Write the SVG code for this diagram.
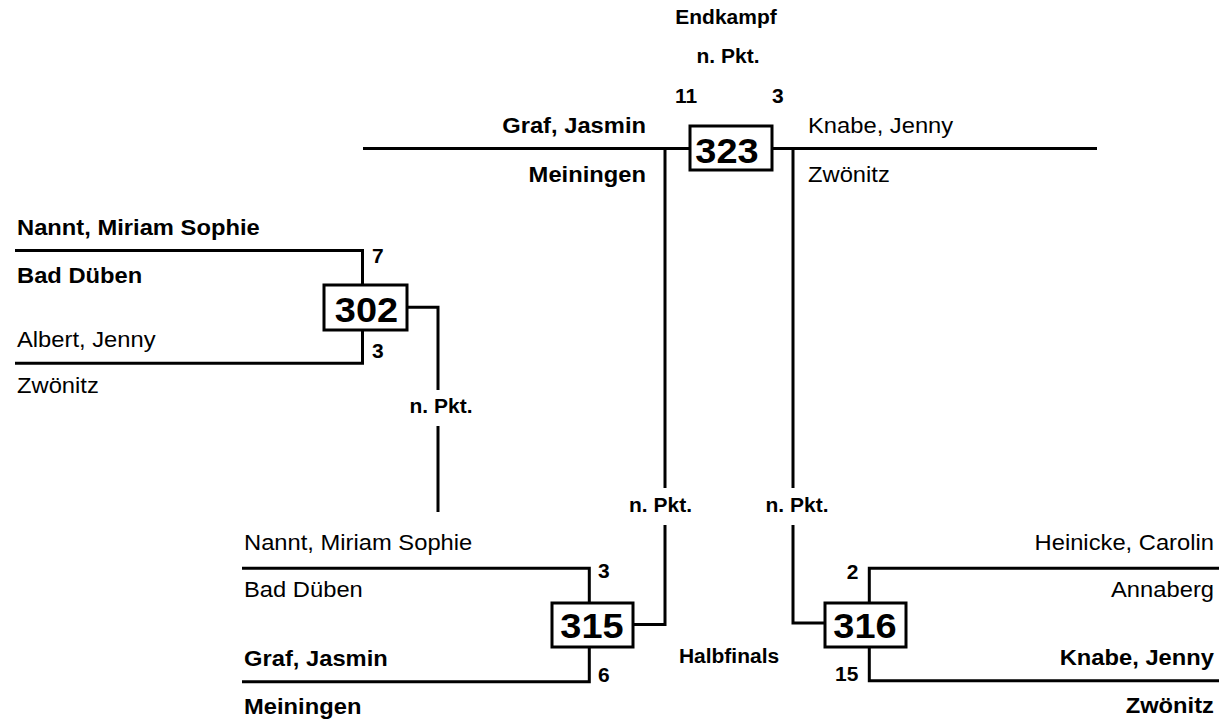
<svg xmlns="http://www.w3.org/2000/svg" width="1219" height="723" viewBox="0 0 1219 723">
<style>
  .ln { fill: none; stroke: #000; stroke-width: 3; }
  .box { fill: #fff; stroke: #000; stroke-width: 3; }
  text { font-family: "Liberation Sans", Arial, sans-serif; fill: #000; }
  .nb { font-size: 22.4px; font-weight: bold; }
  .nr { font-size: 22.4px; }
  .lb { font-size: 19.8px; font-weight: bold; }
  .num { font-size: 35.8px; font-weight: bold; text-anchor: middle; }
  .mid { text-anchor: middle; }
  .end { text-anchor: end; }
</style>
<rect width="1219" height="723" fill="#fff"/>
<g id="connectors">
  <path class="ln" d="M363,148.5 H1097"/>
  <path class="ln" d="M15,250.5 H362.5 V285 M362.5,330 V363.3 H15"/>
  <path class="ln" d="M407.5,307.3 H438 V390 M438,426 V512"/>
  <path class="ln" d="M242,568.3 H589.3 V603 M589.3,647 V681.7 H242"/>
  <path class="ln" d="M1219,568.3 H869.3 V603 M869.3,647 V680.7 H1219"/>
  <path class="ln" d="M632,624.5 H665 V525 M665,488 V148.5"/>
  <path class="ln" d="M825,623 H793 V525 M793,488 V148.5"/>
</g>
<g id="m323">
  <text class="lb mid" transform="matrix(1.06 0 0 1 726 24)">Endkampf</text>
  <text class="lb mid" transform="matrix(1.06 0 0 1 728 63)">n. Pkt.</text>
  <text class="lb" transform="matrix(1.06 0 0 1 675 103)">11</text>
  <text class="lb" transform="matrix(1.06 0 0 1 772 103)">3</text>
  <text class="nb end" transform="matrix(1.06 0 0 1 646 133)">Graf, Jasmin</text>
  <text class="nb end" transform="matrix(1.06 0 0 1 646 181.5)">Meiningen</text>
  <text class="nr" transform="matrix(1.06 0 0 1 808 133)">Knabe, Jenny</text>
  <text class="nr" transform="matrix(1.06 0 0 1 808 181.5)">Zwönitz</text>
  <rect class="box" x="690" y="126" width="82" height="44"/>
  <text class="num" transform="matrix(1.06 0 0 1 727 163)">323</text>
</g>
<g id="m302">
  <text class="nb" transform="matrix(1.06 0 0 1 17 235)">Nannt, Miriam Sophie</text>
  <text class="nb" transform="matrix(1.06 0 0 1 17 283)">Bad Düben</text>
  <text class="nr" transform="matrix(1.06 0 0 1 17 346.5)">Albert, Jenny</text>
  <text class="nr" transform="matrix(1.06 0 0 1 17 393)">Zwönitz</text>
  <text class="lb" transform="matrix(1.06 0 0 1 372 262.7)">7</text>
  <text class="lb" transform="matrix(1.06 0 0 1 372 357.7)">3</text>
  <rect class="box" x="324" y="285" width="83" height="45"/>
  <text class="num" transform="matrix(1.06 0 0 1 366.5 321.7)">302</text>
  <text class="lb mid" transform="matrix(1.06 0 0 1 441 413)">n. Pkt.</text>
</g>
<g id="m315">
  <text class="nr" transform="matrix(1.06 0 0 1 244 550)">Nannt, Miriam Sophie</text>
  <text class="nr" transform="matrix(1.06 0 0 1 244 596.7)">Bad Düben</text>
  <text class="nb" transform="matrix(1.06 0 0 1 244 666)">Graf, Jasmin</text>
  <text class="nb" transform="matrix(1.06 0 0 1 244 714)">Meiningen</text>
  <text class="lb" transform="matrix(1.06 0 0 1 598 578)">3</text>
  <text class="lb" transform="matrix(1.06 0 0 1 598 681.7)">6</text>
  <rect class="box" x="552" y="603" width="81" height="44"/>
  <text class="num" transform="matrix(1.06 0 0 1 592 638)">315</text>
  <text class="lb mid" transform="matrix(1.06 0 0 1 660.5 512)">n. Pkt.</text>
</g>
<g id="m316">
  <text class="nr end" transform="matrix(1.06 0 0 1 1214 550)">Heinicke, Carolin</text>
  <text class="nr end" transform="matrix(1.06 0 0 1 1214 596.7)">Annaberg</text>
  <text class="nb end" transform="matrix(1.06 0 0 1 1214 665)">Knabe, Jenny</text>
  <text class="nb end" transform="matrix(1.06 0 0 1 1214 713.3)">Zwönitz</text>
  <text class="lb end" transform="matrix(1.06 0 0 1 858.3 579.3)">2</text>
  <text class="lb end" transform="matrix(1.06 0 0 1 858.3 680.7)">15</text>
  <rect class="box" x="825" y="603" width="81" height="44"/>
  <text class="num" transform="matrix(1.06 0 0 1 865 638)">316</text>
  <text class="lb mid" transform="matrix(1.06 0 0 1 797 512)">n. Pkt.</text>
</g>
<g id="label-halbfinals">
  <text class="lb mid" transform="matrix(1.06 0 0 1 729 663)">Halbfinals</text>
</g>
</svg>
